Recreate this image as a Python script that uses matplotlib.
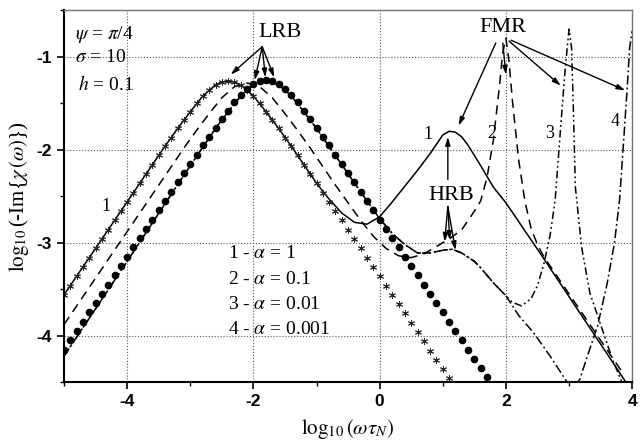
import numpy as np
import matplotlib.pyplot as plt
from matplotlib.ticker import MultipleLocator

plt.rcParams['font.family'] = 'Liberation Serif'
plt.rcParams['mathtext.fontset'] = 'stix'
plt.rcParams['axes.unicode_minus'] = False

# ---- LRB (Debye-like) points ----
ast_x = [-5.0, -4.9, -4.8, -4.7, -4.6, -4.5, -4.4, -4.3, -4.2, -4.1,
         -4.0, -3.9, -3.8, -3.7, -3.6, -3.5, -3.4, -3.3, -3.2, -3.1,
         -3.0, -2.9, -2.8, -2.7, -2.6, -2.5, -2.4, -2.3, -2.2, -2.1,
         -2.0, -1.9, -1.8, -1.7, -1.6, -1.5, -1.4, -1.3, -1.2, -1.1,
         -1.0, -0.9, -0.8, -0.7, -0.6, -0.5, -0.4, -0.3, -0.2, -0.1,
         0.0, 0.1, 0.2, 0.3, 0.4, 0.5, 0.6, 0.7, 0.8, 0.9, 1.0, 1.1]
ast_y = [-3.56, -3.46, -3.36, -3.26, -3.16, -3.06, -2.96, -2.86, -2.76, -2.66,
         -2.56, -2.46, -2.36, -2.26, -2.16, -2.06, -1.96, -1.87, -1.77, -1.68,
         -1.59, -1.50, -1.42, -1.36, -1.30, -1.27, -1.26, -1.27, -1.30, -1.36,
         -1.42, -1.50, -1.59, -1.68, -1.77, -1.87, -1.96, -2.06, -2.16, -2.26,
         -2.36, -2.46, -2.56, -2.66, -2.76, -2.86, -2.96, -3.06, -3.16, -3.26,
         -3.36, -3.46, -3.56, -3.66, -3.76, -3.86, -3.96, -4.06, -4.16, -4.26, -4.36, -4.46]

circ_x = [-5.0, -4.9, -4.8, -4.7, -4.6, -4.5, -4.4, -4.3, -4.2, -4.1,
          -4.0, -3.9, -3.8, -3.7, -3.6, -3.5, -3.4, -3.3, -3.2, -3.1,
          -3.0, -2.9, -2.8, -2.7, -2.6, -2.5, -2.4, -2.3, -2.2, -2.1,
          -2.0, -1.9, -1.8, -1.7, -1.6, -1.5, -1.4, -1.3, -1.2, -1.1,
          -1.0, -0.9, -0.8, -0.7, -0.6, -0.5, -0.4, -0.3, -0.2, -0.1,
          0.0, 0.1, 0.2, 0.3, 0.4, 0.5, 0.6, 0.7, 0.8, 0.9, 1.0, 1.1,
          1.2, 1.3, 1.4, 1.5, 1.6, 1.7]
circ_y = [-4.15, -4.05, -3.95, -3.85, -3.75, -3.65, -3.55, -3.45, -3.35, -3.25,
          -3.15, -3.05, -2.95, -2.85, -2.75, -2.65, -2.55, -2.45, -2.35, -2.25,
          -2.15, -2.05, -1.95, -1.86, -1.76, -1.67, -1.58, -1.49, -1.41, -1.35,
          -1.29, -1.26, -1.25, -1.26, -1.29, -1.35, -1.41, -1.49, -1.58, -1.67,
          -1.76, -1.86, -1.95, -2.05, -2.15, -2.25, -2.35, -2.45, -2.55, -2.65,
          -2.75, -2.85, -2.95, -3.05, -3.15, -3.25, -3.35, -3.45, -3.55, -3.65, -3.75, -3.85,
          -3.95, -4.05, -4.15, -4.25, -4.35, -4.45]

# ---- full curves ----
c1_x = [-5.0, -4.0, -3.6, -3.4, -3.2, -3.0, -2.8, -2.7, -2.6, -2.5, -2.4, -2.3, -2.2,
        -2.1, -2.0, -1.8, -1.6, -1.4, -1.2, -1.0, -0.8, -0.6, -0.4, -0.2, 0.0, 0.2,
        0.4, 0.6, 0.8, 1.0, 1.1, 1.2, 1.3, 1.4, 1.6, 1.8, 2.0, 2.5, 3.0, 3.5, 3.9]
c1_y = [-3.56, -2.56, -2.16, -1.96, -1.77, -1.59, -1.42, -1.36, -1.30, -1.27, -1.26, -1.27, -1.30,
        -1.36, -1.42, -1.59, -1.77, -1.96, -2.16, -2.36, -2.53, -2.68, -2.78, -2.80, -2.72, -2.56,
        -2.39, -2.22, -2.04, -1.84, -1.80, -1.81, -1.86, -1.95, -2.17, -2.40, -2.57, -3.07, -3.58, -4.09, -4.50]

c2_x = [-5.0, -4.0, -3.5, -3.1, -2.9, -2.7, -2.5, -2.3, -2.1, -1.9, -1.7, -1.5, -1.3,
        -1.1, -0.9, -0.7, -0.5, -0.3, -0.1, 0.1, 0.3, 0.5, 0.7, 0.9, 1.1, 1.3, 1.5,
        1.6, 1.7, 1.8, 1.9, 1.95, 2.0, 2.05, 2.1, 2.2, 2.3, 2.4, 2.5, 2.6, 2.7, 3.0, 3.5, 3.85]
c2_y = [-3.88, -2.88, -2.38, -1.98, -1.79, -1.61, -1.44, -1.32, -1.28, -1.32, -1.44, -1.61, -1.79,
        -1.98, -2.18, -2.38, -2.57, -2.76, -2.93, -3.06, -3.14, -3.16, -3.12, -3.04, -2.96, -2.86, -2.66,
        -2.55, -2.30, -1.90, -1.30, -0.95, -0.80, -1.05, -1.45, -2.10, -2.55, -2.85, -3.02, -3.15, -3.25, -3.55, -4.05, -4.40]

# common part of curves 3 and 4 (LRB + HRB)
c34_x = [-5.0, -4.0, -3.4, -3.0, -2.6, -2.4, -2.2, -2.0, -1.8, -1.6, -1.4, -1.2, -1.0,
         -0.6, -0.2, 0.0, 0.2, 0.4, 0.6, 0.8, 1.0, 1.15, 1.3, 1.5, 1.6, 1.8, 2.0]
c34_y = [-4.22, -3.20, -2.58, -2.17, -1.77, -1.59, -1.42, -1.30, -1.26, -1.30, -1.42, -1.59, -1.77,
         -2.16, -2.55, -2.74, -2.90, -3.02, -3.11, -3.11, -3.08, -3.07, -3.11, -3.20, -3.27, -3.43, -3.57]

c3_x = c34_x + [2.1, 2.25, 2.4, 2.5, 2.6, 2.7, 2.78, 2.86, 2.94, 3.0, 3.04, 3.07, 3.1,
                3.2, 3.33, 3.5, 3.69, 3.85]
c3_y = c34_y + [-3.64, -3.68, -3.60, -3.46, -3.23, -2.92, -2.54, -1.82, -1.12, -0.70, -0.90, -1.60, -2.40,
                -3.05, -3.54, -3.88, -4.26, -4.52]

c4_x = c34_x + [2.2, 2.44, 2.7, 2.94, 3.05, 3.17, 3.3, 3.45, 3.6, 3.72, 3.8, 3.86, 3.92, 3.96, 4.0]
c4_y = c34_y + [-3.78, -3.97, -4.22, -4.47, -4.58, -4.47, -4.20, -3.90, -3.45, -3.00, -2.54, -1.95, -1.35, -0.90, -0.72]

legend_lines = ['1 - $\\alpha$ = 1', '2 - $\\alpha$ = 0.1', '3 - $\\alpha$ = 0.01', '4 - $\\alpha$ = 0.001']

fig = plt.figure(figsize=(6.42, 4.48), dpi=100)
ax = fig.add_axes([0.0997, 0.147, 0.885, 0.8296])

lw = 1.1
ax.plot(c1_x, c1_y, '-', color='k', lw=lw)
ax.plot(c2_x, c2_y, color='k', lw=lw, linestyle=(0, (6, 4)))
ax.plot(c3_x, c3_y, color='k', lw=lw, linestyle=(0, (5, 2, 1.2, 2, 1.2, 2)))
ax.plot(c4_x, c4_y, color='k', lw=lw, linestyle=(0, (6, 2, 1.2, 2)))
ax.plot(ast_x, ast_y, linestyle='none', marker=(6, 2, 0), ms=5, mew=0.7, color='0.15')
ax.plot(circ_x, circ_y, linestyle='none', marker='o', ms=4.5, color='k')

ax.set_xlim(-5, 4)
ax.set_ylim(-4.5, -0.5)
ax.xaxis.set_major_locator(MultipleLocator(2))
ax.xaxis.set_minor_locator(MultipleLocator(1))
ax.yaxis.set_major_locator(MultipleLocator(1))
ax.yaxis.set_minor_locator(MultipleLocator(0.5))
ax.grid(True, which='major', linestyle=':', color='0.35', lw=0.8)
ax.tick_params(which='major', direction='out', length=5, width=1.2, labelsize=12.5)
ax.tick_params(which='minor', direction='out', length=3, width=1)
for lab in ax.get_xticklabels() + ax.get_yticklabels():
    lab.set_family('Liberation Sans')
    lab.set_weight('bold')
ax.spines['left'].set_linewidth(1.5)
ax.spines['bottom'].set_linewidth(1.5)
for s in ['top', 'right']:
    ax.spines[s].set_linewidth(1.0)
    ax.spines[s].set_color('0.45')

ax.set_xlabel(r'$\log_{10}(\omega\tau_N)$', fontsize=15, labelpad=6)
ax.set_ylabel(r'$\log_{10}$(-Im{$\chi\,(\omega)$})', fontsize=15, labelpad=4)

# parameters
ax.text(-4.83, -0.76, r'$\psi$ = $\pi$/4', fontsize=14, va='center', ha='left')
ax.text(-4.83, -1.01, r'$\sigma$ = 10', fontsize=14, va='center', ha='left')
ax.text(-4.78, -1.30, r'$h$ = 0.1', fontsize=14, va='center', ha='left')

for i, t in enumerate(legend_lines):
    ax.text(-2.41, -3.12 - 0.27 * i, t, fontsize=14, va='center', ha='left')

# curve numbers
ax.text(-4.33, -2.61, '1', fontsize=13, ha='center', va='center')
ax.text(0.77, -1.84, '1', fontsize=13, ha='center', va='center')
ax.text(1.77, -1.82, '2', fontsize=13, ha='center', va='center')
ax.text(2.69, -1.82, '3', fontsize=13, ha='center', va='center')
ax.text(3.73, -1.70, '4', fontsize=13, ha='center', va='center')

# resonance labels with arrows
ap = dict(arrowstyle='-|>,head_length=0.5,head_width=0.15', color='k', lw=1.0, shrinkA=0, shrinkB=0)
ax.text(-1.58, -0.74, 'LRB', fontsize=16, ha='center', va='center')
for tx, ty in [(-2.36, -1.19), (-1.98, -1.25), (-1.81, -1.22), (-1.67, -1.22)]:
    ax.annotate('', xy=(tx, ty), xytext=(-1.86, -0.89), arrowprops=ap)

ax.text(1.95, -0.68, 'FMR', fontsize=16, ha='center', va='center')
for (sx, sy), (tx, ty) in [((1.84, -0.85), (1.25, -1.74)), ((1.95, -0.85), (2.0, -1.19)),
                           ((2.05, -0.83), (2.87, -1.31)), ((2.08, -0.82), (3.89, -1.36))]:
    ax.annotate('', xy=(tx, ty), xytext=(sx, sy), arrowprops=ap)

ax.text(1.14, -2.49, 'HRB', fontsize=16, ha='center', va='center')
ax.annotate('', xy=(1.08, -1.86), xytext=(1.08, -2.32), arrowprops=ap)
for tx, ty in [(1.03, -2.99), (1.11, -2.97), (1.2, -3.08)]:
    ax.annotate('', xy=(tx, ty), xytext=(1.08, -2.61), arrowprops=ap)

fig.savefig('out.png', dpi=100)
